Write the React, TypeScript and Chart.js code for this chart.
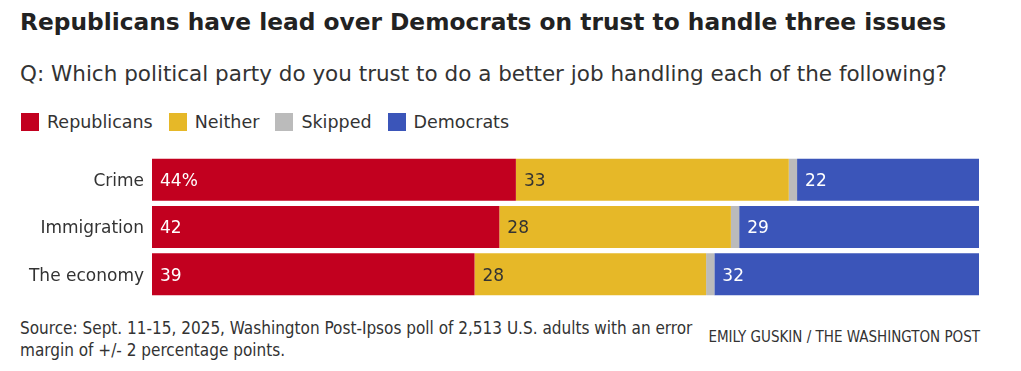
import React, { useEffect, useRef } from "react";
import { Chart, registerables } from "chart.js";

Chart.register(...registerables);

const categories = ["Crime", "Immigration", "The economy"];
const republicans = [44, 42, 39];
const neither = [33, 28, 28];
const skipped = [1, 1, 1];
const democrats = [22, 29, 32];

const seriesNames = ["Republicans", "Neither", "Skipped", "Democrats"];
const seriesColors = ["#c2001f", "#e6b828", "#bbbbbb", "#3b55b9"];
const labelColors = ["#ffffff", "#333333", null, "#ffffff"];

const BODY = "'DejaVu Sans', sans-serif";
const NARROW = "'DejaVu Sans Condensed', 'DejaVu Sans', sans-serif";

const labelPlugin = {
  id: "barLabels",
  afterDatasetsDraw(chart: any) {
    const ctx = chart.ctx;
    ctx.save();
    ctx.font = `17px ${BODY}`;
    ctx.textBaseline = "middle";
    ctx.textAlign = "left";
    chart.data.datasets.forEach((ds: any, di: number) => {
      const color = labelColors[di];
      if (!color) return;
      const meta = chart.getDatasetMeta(di);
      meta.data.forEach((bar: any, i: number) => {
        const v = ds.data[i];
        const text = di === 0 && i === 0 ? `${v}%` : `${v}`;
        const left = Math.min(bar.x, bar.base);
        ctx.fillStyle = color;
        ctx.fillText(text, left + 8, bar.y + 2);
      });
    });
    ctx.restore();
  },
};

function BarChart() {
  const ref = useRef<HTMLCanvasElement>(null);
  useEffect(() => {
    if (!ref.current) return;
    const data = [republicans, neither, skipped, democrats];
    const chart = new Chart(ref.current, {
      type: "bar",
      data: {
        labels: categories,
        datasets: seriesNames.map((name, i) => ({
          label: name,
          data: data[i],
          backgroundColor: seriesColors[i],
          borderWidth: 0,
          barPercentage: 41 / 46,
          categoryPercentage: 1,
        })),
      },
      options: {
        indexAxis: "y",
        animation: false,
        responsive: true,
        maintainAspectRatio: false,
        layout: { padding: 0 },
        plugins: { legend: { display: false }, tooltip: { enabled: false } },
        scales: {
          x: { stacked: true, min: 0, max: 100, display: false },
          y: {
            stacked: true,
            grid: { display: false, drawTicks: false },
            border: { display: false },
            ticks: { color: "#333", font: { family: BODY, size: 17 }, padding: 8, labelOffset: 2 },
            afterFit(scale: any) {
              scale.width = 152;
            },
          },
        },
      },
      plugins: [labelPlugin],
    });
    return () => chart.destroy();
  }, []);
  return (
    <div style={{ position: "absolute", left: 0, top: 138, width: 979, height: 178 }}>
      <canvas ref={ref} />
    </div>
  );
}

export default function App() {
  return (
    <div
      style={{
        position: "fixed",
        left: 0,
        top: 0,
        width: 1021,
        height: 371,
        background: "#fff",
        fontFamily: BODY,
        color: "#222",
        overflow: "hidden",
      }}
    >
      <div style={{ position: "absolute", left: 20, top: 8, fontSize: 23.3, fontWeight: 700, whiteSpace: "nowrap" }}>
        Republicans have lead over Democrats on trust to handle three issues
      </div>
      <div style={{ position: "absolute", left: 20, top: 61, fontSize: 21.5, color: "#333", whiteSpace: "nowrap" }}>
        Q: Which political party do you trust to do a better job handling each of the following?
      </div>
      <div style={{ position: "absolute", left: 21, top: 112, display: "flex", alignItems: "center", fontSize: 17.5, color: "#333" }}>
        {seriesNames.map((n, i) => (
          <div key={n} style={{ display: "flex", alignItems: "center", marginRight: 16 }}>
            <div style={{ width: 18, height: 18, background: seriesColors[i], marginRight: 8 }} />
            <span>{n}</span>
          </div>
        ))}
      </div>
      <BarChart />
      <div style={{ position: "absolute", left: 20, top: 317, width: 690, fontFamily: NARROW, fontSize: 17, lineHeight: "22px", color: "#333" }}>
        Source: Sept. 11-15, 2025, Washington Post-Ipsos poll of 2,513 U.S. adults with an error margin of +/- 2 percentage points.
      </div>
      <div style={{ position: "absolute", right: 41, top: 328, fontFamily: NARROW, fontSize: 15, color: "#333", whiteSpace: "nowrap" }}>
        EMILY GUSKIN / THE WASHINGTON POST
      </div>
    </div>
  );
}
